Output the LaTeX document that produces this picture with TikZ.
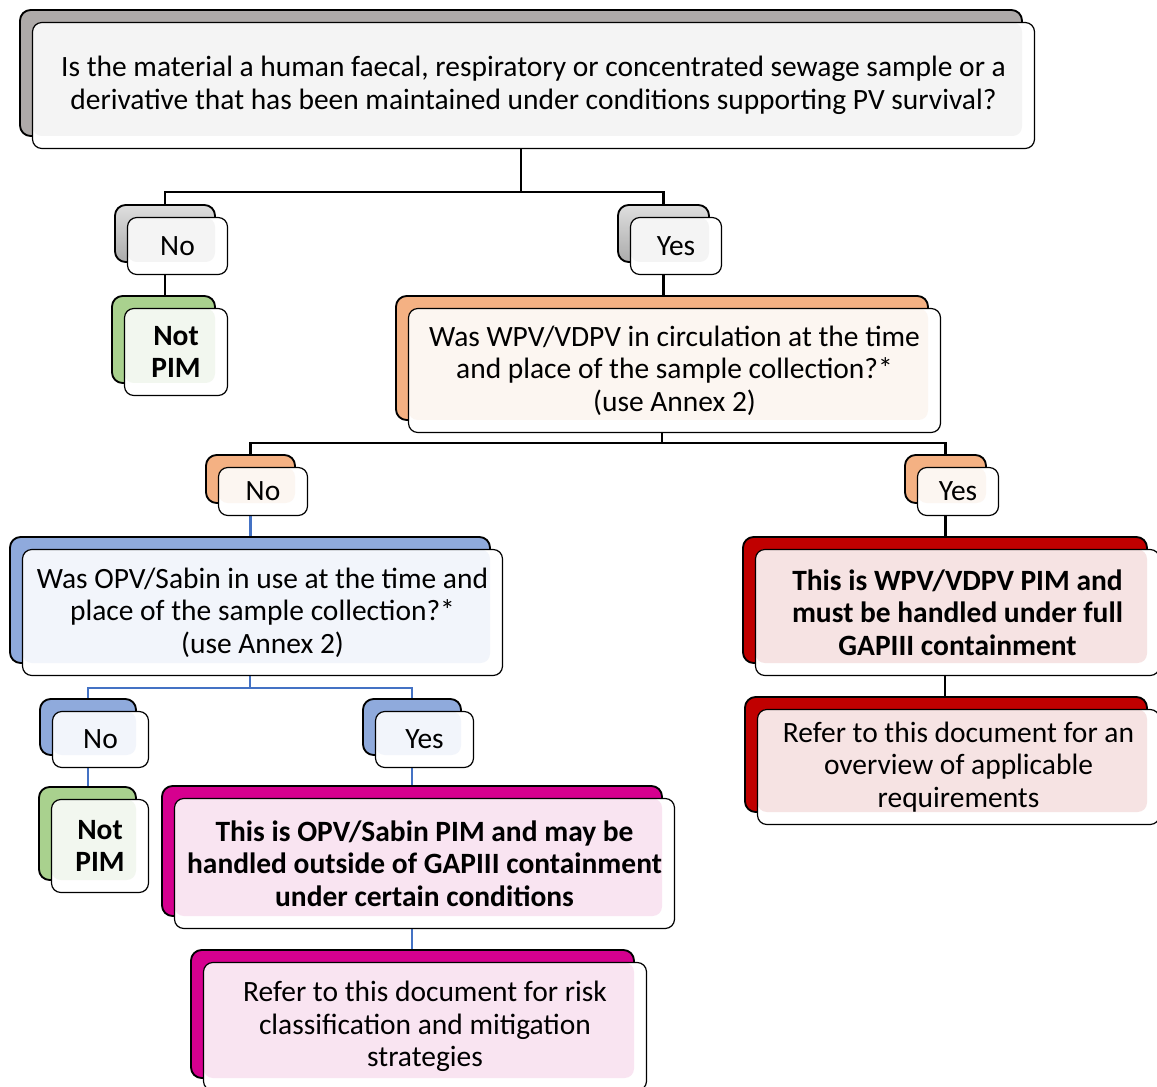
\documentclass[tikz,border=0pt]{standalone}
\usepackage{fontspec}
\setmainfont{Carlito}
\usetikzlibrary{backgrounds}
\definecolor{greyB}{HTML}{AEAAA9}
\definecolor{greyL}{HTML}{DEDEDE}
\definecolor{greyD}{HTML}{ABABAB}
\definecolor{greyT}{HTML}{F4F4F4}
\definecolor{greenB}{HTML}{A9D18E}
\definecolor{greenT}{HTML}{F2F7EF}
\definecolor{orangeB}{HTML}{F4B183}
\definecolor{orangeT}{HTML}{FCF6F1}
\definecolor{blueB}{HTML}{8FAADC}
\definecolor{blueT}{HTML}{F2F5FB}
\definecolor{redB}{HTML}{C00000}
\definecolor{redT}{HTML}{F6E3E3}
\definecolor{magB}{HTML}{D6008F}
\definecolor{magT}{HTML}{F9E4F1}
\definecolor{linkblue}{HTML}{4472C4}
\newcommand\bodyfont{\fontsize{22.1}{24.4}\selectfont}
\tikzset{
  backbox/.style={draw=black, line width=1.4pt, rounded corners=8pt, inner sep=0pt, outer sep=0pt},
  frontbox/.style={draw=black, line width=0.9pt, fill=white, rounded corners=7pt, align=center, inner sep=0pt, outer sep=0pt},
  conn/.style={line width=1.8pt, draw=black},
  bconn/.style={line width=1.6pt, draw=linkblue}
}
% #1 name, #2 x1, #3 y1, #4 x2, #5 y2 (back box), #6 back fill options, #7 tint, #8 font, #9 text
\newcommand\duo[9]{%
  \node[backbox, #6, minimum width={(#4-#2)*0.75pt}, minimum height={(#5-#3)*0.75pt}] (#1b) at ({(#2+#4)/2},{(#3+#5)/2}) {};
  \node[frontbox, minimum width={(#4-#2)*0.75pt}, minimum height={(#5-#3)*0.75pt}, font=#8,
    path picture={\fill[#7, rounded corners=7pt] (path picture bounding box.north west) rectangle ([shift={(-12.5,-12.5)}]path picture bounding box.south east);}]
    (#1) at ({(#2+#4)/2+12.5},{(#3+#5)/2+12.5}) {#9};
}
\begin{document}
\begin{tikzpicture}[x=0.75pt, y=-0.75pt]
\useasboundingbox (0,0) rectangle (1157,1087);
\duo{q1}{20}{10}{1022}{136}{fill=greyB}{greyT}{\bodyfont}{Is the material a human faecal, respiratory or concentrated sewage sample or a\\derivative that has been maintained under conditions supporting PV survival?}
\duo{no1}{115}{205}{215}{262}{top color=greyL, bottom color=greyD}{greyT}{\bodyfont}{No}
\duo{yes1}{618}{205}{709}{262}{top color=greyL, bottom color=greyD}{greyT}{\bodyfont}{Yes}
\duo{np1}{112}{296}{215}{383}{fill=greenB}{greenT}{\bodyfont\bfseries}{Not\\PIM}
\duo{q2}{396}{296}{928}{420}{fill=orangeB}{orangeT}{\bodyfont}{Was WPV/VDPV in circulation at the time\\and place of the sample collection?*\\(use Annex 2)}
\duo{no2}{206}{455}{295}{503}{fill=orangeB}{orangeT}{\bodyfont}{No}
\duo{yes2}{905}{455}{986}{503}{fill=orangeB}{orangeT}{\bodyfont}{Yes}
\duo{q3}{10}{537}{490}{663}{fill=blueB}{blueT}{\bodyfont}{Was OPV/Sabin in use at the time and\\place of the sample collection?*\\(use Annex 2)}
\duo{r1}{743}{537}{1147}{663}{fill=redB}{redT}{\bodyfont\bfseries}{This is WPV/VDPV PIM and\\must be handled under full\\GAPIII containment}
\duo{r2}{745}{697}{1147}{812}{fill=redB}{redT}{\bodyfont}{Refer to this document for an\\overview of applicable\\requirements}
\duo{no3}{40}{699}{136}{755}{fill=blueB}{blueT}{\bodyfont}{No}
\duo{yes3}{363}{699}{461}{755}{fill=blueB}{blueT}{\bodyfont}{Yes}
\duo{np2}{39}{787}{136}{880}{fill=greenB}{greenT}{\bodyfont\bfseries}{Not\\PIM}
\duo{m1}{162}{786}{662}{916}{fill=magB}{magT}{\bodyfont\bfseries}{This is OPV/Sabin PIM and may be\\handled outside of GAPIII containment\\under certain conditions}
\duo{m2}{191}{950}{634}{1078}{fill=magB}{magT}{\bodyfont}{Refer to this document for risk\\classification and mitigation\\strategies}
\begin{scope}[on background layer]
\draw[conn] (q1b.south) -- ++(0,56) -| (no1b.north);
\draw[conn] (q1b.south) -- ++(0,56) -| (yes1b.north);
\draw[conn] (no1b.south) -- (no1b.south |- np1b.north);
\draw[conn] (yes1b.south) -- (yes1b.south |- q2b.north);
\draw[conn] (q2b.south) -- ++(0,23) -| (no2b.north);
\draw[conn] (q2b.south) -- ++(0,23) -| (yes2b.north);
\draw[bconn] (no2b.south) -- (no2b.south |- q3b.north);
\draw[conn] (yes2b.south) -- (yes2b.south |- r1b.north);
\draw[conn] (r1b.south) -- (r1b.south |- r2b.north);
\draw[bconn] (q3b.south) -- ++(0,25) -| (no3b.north);
\draw[bconn] (q3b.south) -- ++(0,25) -| (yes3b.north);
\draw[bconn] (no3b.south) -- (no3b.south |- np2b.north);
\draw[bconn] (yes3b.south) -- (yes3b.south |- m1b.north);
\draw[bconn] (m1b.south) -- (m1b.south |- m2b.north);
\end{scope}
\end{tikzpicture}
\end{document}
